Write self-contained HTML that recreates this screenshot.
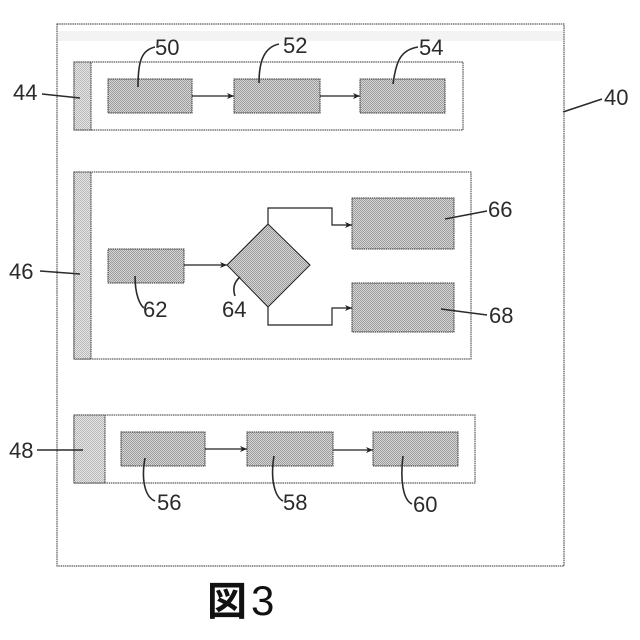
<!DOCTYPE html>
<html><head><meta charset="utf-8"><style>
html,body{margin:0;padding:0;background:#fff;width:640px;height:640px;overflow:hidden}
svg{display:block}
text{font-family:"Liberation Sans","Noto Sans CJK JP",sans-serif;fill:#2b2b2b;font-size:22px}
</style></head><body>
<svg width="640" height="640" viewBox="0 0 640 640" xmlns="http://www.w3.org/2000/svg">
<defs>
<pattern id="d" width="2" height="2" patternUnits="userSpaceOnUse"><rect width="2" height="2" fill="#d6d6d6"/><rect width="1" height="1" fill="#9c9c9c"/><rect x="1" y="1" width="1" height="1" fill="#9c9c9c"/></pattern>
<pattern id="l" width="2" height="2" patternUnits="userSpaceOnUse"><rect width="2" height="2" fill="#e6e6e6"/><rect width="1" height="1" fill="#b8b8b8"/><rect x="1" y="1" width="1" height="1" fill="#b8b8b8"/></pattern>
<marker id="a" markerWidth="8" markerHeight="8" refX="7" refY="4" orient="auto" markerUnits="userSpaceOnUse"><path d="M0,1 L7,4 L0,7 L2,4 Z" fill="#222"/></marker>
</defs>
<rect x="57" y="24" width="507" height="542" fill="#fff" stroke="#333" stroke-width="1" stroke-dasharray="1.5 .7"/>
<rect x="58" y="31" width="505" height="10" fill="#f3f3f3"/>
<g fill="#fff" stroke="#333" stroke-width="1" stroke-dasharray="1.5 .7">
<rect x="74" y="62" width="389" height="68"/>
<rect x="74" y="172" width="397" height="187"/>
<rect x="74" y="415" width="401" height="68"/>
</g>
<g stroke="#333" stroke-width="1" stroke-dasharray="1.5 .7">
<rect x="74" y="62" width="17" height="68" fill="url(#l)"/>
<rect x="74" y="172" width="17" height="187" fill="url(#l)"/>
<rect x="74" y="415" width="31" height="68" fill="url(#l)"/>
<rect x="108" y="79" width="84" height="34" fill="url(#d)"/>
<rect x="234" y="79" width="86" height="34" fill="url(#d)"/>
<rect x="360" y="79" width="85" height="34" fill="url(#d)"/>
<rect x="108" y="249" width="76" height="34" fill="url(#d)"/>
<rect x="352" y="198" width="102" height="51" fill="url(#d)"/>
<rect x="352" y="283" width="102" height="49" fill="url(#d)"/>
<rect x="121" y="432" width="84" height="34" fill="url(#d)"/>
<rect x="247" y="432" width="86" height="34" fill="url(#d)"/>
<rect x="373" y="432" width="85" height="34" fill="url(#d)"/>
</g>
<path d="M268,224 L310,265 L268,307 L227,265 Z" fill="url(#d)" stroke="#222"/>
<g fill="none" stroke="#222" stroke-width="1.2">
<path d="M192,96 H234" marker-end="url(#a)"/>
<path d="M320,96 H360" marker-end="url(#a)"/>
<path d="M184,265 H227" marker-end="url(#a)"/>
<path d="M268,224 V208 H332 V225 H352" marker-end="url(#a)"/>
<path d="M268,307 V325 H332 V308 H352" marker-end="url(#a)"/>
<path d="M205,449 H247" marker-end="url(#a)"/>
<path d="M333,450 H373" marker-end="url(#a)"/>
</g>
<g fill="none" stroke="#2b2b2b" stroke-width="1.6">
<path d="M42,94 L80,98"/>
<path d="M40,271 L80,274"/>
<path d="M37,450 L83,450"/>
<path d="M563,112 L602,99"/>
<path d="M138,87 C138,60 142,50 155,47"/>
<path d="M259,83 C259,60 265,47 279,44"/>
<path d="M393,84 C396,62 400,50 418,47"/>
<path d="M135,276 C135,295 140,305 144,308"/>
<path d="M240,277 C233,283 233,290 235,296"/>
<path d="M445,219 L487,211"/>
<path d="M441,309 L487,315"/>
<path d="M145,458 C141,480 145,497 155,501"/>
<path d="M274,456 C270,480 275,497 283,501"/>
<path d="M403,456 C400,480 403,500 412,504"/>
</g>
<text x="13" y="100">44</text>
<text x="155" y="55">50</text>
<text x="283" y="53">52</text>
<text x="419" y="55">54</text>
<text x="604" y="105">40</text>
<text x="9" y="279">46</text>
<text x="143" y="317">62</text>
<text x="222" y="317">64</text>
<text x="488" y="217">66</text>
<text x="489" y="323">68</text>
<text x="9" y="458">48</text>
<text x="157" y="510">56</text>
<text x="283" y="510">58</text>
<text x="413" y="512">60</text>
<text x="207" y="615" style="font-size:40px;font-weight:700;fill:#111">図</text>
<text x="251" y="615" style="font-size:42px;fill:#111">3</text>
</svg>
</body></html>
